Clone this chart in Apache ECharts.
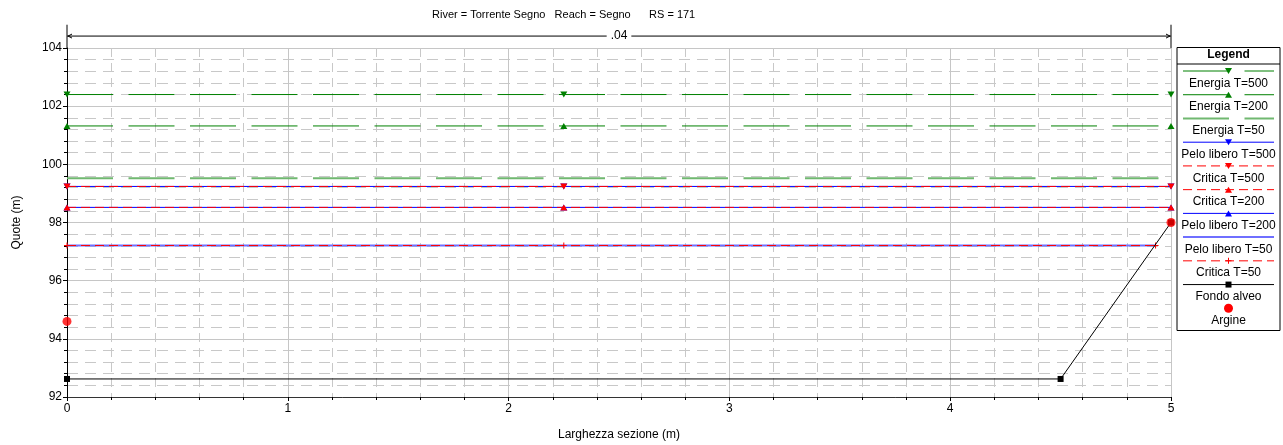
<!DOCTYPE html>
<html>
<head>
<meta charset="utf-8">
<script src="https://cdn.jsdelivr.net/npm/echarts@6/dist/echarts.min.js"></script>
<style>
  html, body { margin: 0; padding: 0; background: #fff; }
  #chart { width: 1283px; height: 445px; }
</style>
</head>
<body>
<div id="chart"></div>
<script>
// ---- Cross-section data (station and elevation in m) ----
const groundX = [0, 4.5, 5];
const groundY = [92.62, 92.62, 98.0];
const bankX = [0, 5];
const bankY = [94.6, 98.0];

// ---- Profiles ----
const profileNames = ['T=500', 'T=200', 'T=50'];
const energyElev = [102.40, 101.32, 99.52];
const waterElev = [99.24, 98.52, 97.21];
const criticalElev = [99.24, 98.52, 97.21];
const waterEndX = [5, 5, 4.93];      // water surface meets the right bank
const energyEndX = [5, 5, 5];
const symbolStations = [0, 2.25];    // stations carrying a symbol, plus the line end

// ---- Axes and annotations ----
const xRange = [0, 5];
const yRange = [92, 104];
const xStep = 1;
const yStep = 2;
const manningLabel = '.04';
const titleText = 'River = Torrente Segno   Reach = Segno      RS = 171';
const xTitle = 'Larghezza sezione (m)';
const yTitle = 'Quote (m)';
const legendTitle = 'Legend';
const legendNames = [
  'Energia T=500', 'Energia T=200', 'Energia T=50', 'Pelo libero T=500',
  'Critica T=500', 'Critica T=200', 'Pelo libero T=200', 'Pelo libero T=50',
  'Critica T=50', 'Fondo alveo', 'Argine'
];

const FONT = "'Liberation Sans', Arial, Helvetica, sans-serif";
const GREEN = '#008000', LGREEN = '#70b870';
const BLUE = '#0000ff', LBLUE = '#6f6fff';
const RED = '#ff0000', BLACK = '#000000';
const ENERGY_DASH = [46, 15.5];
const CRIT_DASH = [9, 5];
const PLUS_PATH = 'path://M2.5,0h1v2.5h2.5v1h-2.5v2.5h-1v-2.5h-2.5v-1h2.5z';

// line/marker style for each named series
const styles = {
  'Energia T=500':     { color: GREEN,  width: 1, dash: ENERGY_DASH, marker: 'down' },
  'Energia T=200':     { color: GREEN,  width: 1, dash: ENERGY_DASH, marker: 'up' },
  'Energia T=50':      { color: LGREEN, width: 2, dash: ENERGY_DASH, marker: null },
  'Pelo libero T=500': { color: BLUE,   width: 1, dash: null, marker: 'down' },
  'Pelo libero T=200': { color: BLUE,   width: 1, dash: null, marker: 'up' },
  'Pelo libero T=50':  { color: LBLUE,  width: 2, dash: null, marker: null },
  'Critica T=500':     { color: RED,    width: 1, dash: CRIT_DASH, marker: 'down' },
  'Critica T=200':     { color: RED,    width: 1, dash: CRIT_DASH, marker: 'up' },
  'Critica T=50':      { color: RED,    width: 1, dash: CRIT_DASH, marker: 'plus' },
  'Fondo alveo':       { color: BLACK,  width: 1, dash: null, marker: 'square' },
  'Argine':            { color: RED,    width: 0, dash: null, marker: 'circle' }
};

function symbolOf(kind) {
  switch (kind) {
    case 'down': return { symbol: 'triangle', symbolRotate: 180, symbolSize: [7, 6] };
    case 'up': return { symbol: 'triangle', symbolRotate: 0, symbolSize: [7, 6] };
    case 'plus': return { symbol: PLUS_PATH, symbolRotate: 0, symbolSize: 6 };
    case 'square': return { symbol: 'rect', symbolRotate: 0, symbolSize: 6 };
    case 'circle': return { symbol: 'circle', symbolRotate: 0, symbolSize: 9 };
    default: return { symbol: 'none', symbolRotate: 0, symbolSize: 0 };
  }
}

function flatLine(elev, endX) {
  return symbolStations.concat([endX]).map(x => [x, elev]);
}

function lineSeries(name, data, z) {
  const s = styles[name];
  const sym = symbolOf(s.marker);
  return Object.assign({
    name: name,
    type: 'line',
    data: data,
    z: z,
    showSymbol: s.marker !== null,
    clip: false,
    lineStyle: { color: s.color, width: s.width, type: s.dash ? s.dash : 'solid' },
    itemStyle: { color: s.color, borderWidth: 0 },
    emphasis: { disabled: true },
    silent: true
  }, sym);
}

const series = [];
profileNames.forEach((p, i) => {
  series.push(lineSeries('Energia ' + p, flatLine(energyElev[i], energyEndX[i]), 2));
});
profileNames.forEach((p, i) => {
  series.push(lineSeries('Pelo libero ' + p, flatLine(waterElev[i], waterEndX[i]), 3));
});
profileNames.forEach((p, i) => {
  series.push(lineSeries('Critica ' + p, flatLine(criticalElev[i], waterEndX[i]), 4));
});
series.push(lineSeries('Fondo alveo', groundX.map((x, i) => [x, groundY[i]]), 5));
series.push(Object.assign({
  name: 'Argine',
  type: 'scatter',
  data: bankX.map((x, i) => [x, bankY[i]]),
  z: 6,
  clip: false,
  itemStyle: { color: RED },
  silent: true
}, symbolOf('circle')));

const axisText = { color: '#000', fontSize: 12, fontFamily: FONT };

const chart = echarts.init(document.getElementById('chart'), null, { renderer: 'canvas' });
chart.setOption({
  animation: false,
  backgroundColor: '#fff',
  title: {
    text: titleText, left: 432, top: 9, padding: 0,
    textStyle: { color: '#000', fontSize: 11, fontWeight: 'normal', fontFamily: FONT }
  },
  grid: { left: 67, right: 112, top: 48, bottom: 48, containLabel: false, outerBoundsMode: 'none' },
  xAxis: {
    type: 'value', min: xRange[0], max: xRange[1], interval: xStep,
    name: xTitle, nameLocation: 'middle', nameGap: 32,
    nameTextStyle: axisText,
    axisLine: { show: true, onZero: false, lineStyle: { color: '#333', width: 1 } },
    axisTick: { show: true, inside: false, length: 4, lineStyle: { color: '#000' } },
    minorTick: { show: true, splitNumber: 5, length: 3, lineStyle: { color: '#000' } },
    splitLine: { show: true, lineStyle: { color: '#c6c6c6', width: 1 } },
    minorSplitLine: { show: true, lineStyle: { color: '#c8c8c8', width: 1, type: [9, 6] } },
    axisLabel: Object.assign({ margin: 6 }, axisText)
  },
  yAxis: {
    type: 'value', min: yRange[0], max: yRange[1], interval: yStep,
    name: yTitle, nameLocation: 'middle', nameGap: 44,
    nameTextStyle: axisText,
    axisLine: { show: true, onZero: false, lineStyle: { color: '#000', width: 1 } },
    axisTick: { show: true, inside: false, length: 4, lineStyle: { color: '#000' } },
    minorTick: { show: true, splitNumber: 5, length: 3, lineStyle: { color: '#000' } },
    splitLine: { show: true, lineStyle: { color: '#c6c6c6', width: 1 } },
    minorSplitLine: { show: true, lineStyle: { color: '#c8c8c8', width: 1, type: [11, 7] } },
    axisLabel: Object.assign({ margin: 5 }, axisText)
  },
  series: series
});

// ---- Manning's n bracket above the plot ----
const px = v => chart.convertToPixel({ gridIndex: 0 }, v);
const leftTop = px([xRange[0], yRange[1] + 0.8]);
const rightTop = px([xRange[1], yRange[1] + 0.8]);
const leftBase = px([xRange[0], yRange[1]]);
const arrowY = px([xRange[0], yRange[1] + 0.41])[1];
const midX = (leftTop[0] + rightTop[0]) / 2;
const gfx = [];
const lineStyleDark = { stroke: '#000', lineWidth: 1 };
gfx.push({ type: 'line', shape: { x1: leftTop[0], y1: leftTop[1], x2: leftBase[0], y2: leftBase[1] }, style: lineStyleDark, z: 10 });
gfx.push({ type: 'line', shape: { x1: rightTop[0], y1: rightTop[1], x2: rightTop[0], y2: leftBase[1] }, style: lineStyleDark, z: 10 });
gfx.push({ type: 'line', shape: { x1: leftTop[0], y1: arrowY, x2: rightTop[0], y2: arrowY }, style: lineStyleDark, z: 10 });
gfx.push({ type: 'polyline', shape: { points: [[leftTop[0] + 5, arrowY - 2], [leftTop[0] + 1, arrowY], [leftTop[0] + 5, arrowY + 2]] }, style: lineStyleDark, z: 10 });
gfx.push({ type: 'polyline', shape: { points: [[rightTop[0] - 5, arrowY - 2], [rightTop[0] - 1, arrowY], [rightTop[0] - 5, arrowY + 2]] }, style: lineStyleDark, z: 10 });
gfx.push({
  type: 'text', x: midX, y: arrowY, z: 11,
  style: { text: manningLabel, align: 'center', verticalAlign: 'middle', font: '12px ' + FONT, fill: '#000', backgroundColor: '#fff', padding: [0, 4] }
});

// ---- Legend panel ----
const box = { x: 1177, y: 47.5, w: 103, h: 283 };
const cx = box.x + box.w / 2;
gfx.push({ type: 'rect', shape: { x: box.x, y: box.y, width: box.w, height: box.h }, style: { fill: '#fff', stroke: '#000', lineWidth: 1 }, z: 20 });
gfx.push({ type: 'text', x: cx, y: box.y + 7.5, z: 21, style: { text: legendTitle, align: 'center', verticalAlign: 'middle', font: 'bold 12px ' + FONT, fill: '#000' } });
gfx.push({ type: 'line', shape: { x1: box.x, y1: box.y + 16.5, x2: box.x + box.w, y2: box.y + 16.5 }, style: { stroke: '#000', lineWidth: 1 }, z: 21 });

function legendMarker(kind, color, x, y) {
  switch (kind) {
    case 'down': return { type: 'polygon', shape: { points: [[x - 3.5, y - 3], [x + 3.5, y - 3], [x, y + 3]] }, style: { fill: color }, z: 22 };
    case 'up': return { type: 'polygon', shape: { points: [[x - 3.5, y + 3], [x + 3.5, y + 3], [x, y - 3]] }, style: { fill: color }, z: 22 };
    case 'plus': return { type: 'polygon', shape: { points: [[x - 0.5, y - 3], [x + 0.5, y - 3], [x + 0.5, y - 0.5], [x + 3, y - 0.5], [x + 3, y + 0.5], [x + 0.5, y + 0.5], [x + 0.5, y + 3], [x - 0.5, y + 3], [x - 0.5, y + 0.5], [x - 3, y + 0.5], [x - 3, y - 0.5], [x - 0.5, y - 0.5]] }, style: { fill: color }, z: 22 };
    case 'square': return { type: 'rect', shape: { x: x - 3, y: y - 3, width: 6, height: 6 }, style: { fill: color }, z: 22 };
    case 'circle': return { type: 'circle', shape: { cx: x, cy: y, r: 4.5 }, style: { fill: color }, z: 22 };
    default: return null;
  }
}

const rowStep = 23.73;
legendNames.forEach((name, i) => {
  const s = styles[name];
  const ly = box.y + 23.5 + i * rowStep;
  if (s.width > 0) {
    gfx.push({
      type: 'line', z: 21,
      shape: { x1: box.x + 6, y1: ly, x2: box.x + box.w - 6, y2: ly },
      style: { stroke: s.color, lineWidth: s.width, lineDash: s.dash || null }
    });
  }
  const m = legendMarker(s.marker, s.color, cx, ly);
  if (m) gfx.push(m);
  gfx.push({ type: 'text', x: cx, y: ly + 12.3, z: 21, style: { text: name, align: 'center', verticalAlign: 'middle', font: '12px ' + FONT, fill: '#000' } });
});

chart.setOption({ graphic: gfx });
</script>
</body>
</html>
